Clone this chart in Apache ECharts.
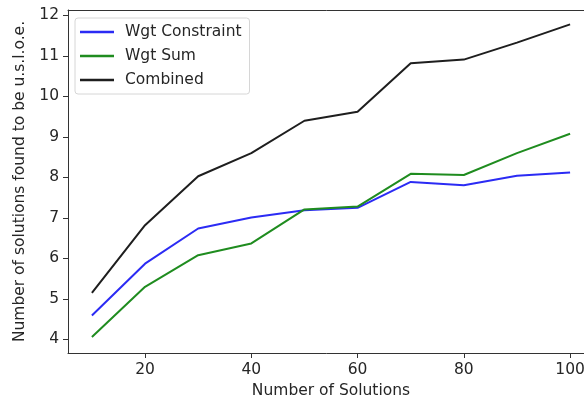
<!DOCTYPE html>
<html>
<head>
<meta charset="utf-8">
<script src="https://cdn.jsdelivr.net/npm/echarts@6/dist/echarts.min.js"></script>
<style>
  html, body { margin: 0; padding: 0; background: #fff; }
  #chart { width: 584px; height: 403px; }
</style>
</head>
<body>
<div id="chart"></div>
<script>
// Number of solutions per run
const solutions = [10, 20, 30, 40, 50, 60, 70, 80, 90, 100];

// Mean count of solutions found to be u.s.l.o.e. for each method
const wgtConstraint = [4.59, 5.87, 6.74, 7.01, 7.19, 7.25, 7.89, 7.81, 8.04, 8.12];
const wgtSum        = [4.06, 5.30, 6.08, 6.37, 7.21, 7.28, 8.09, 8.06, 8.60, 9.08];
const combined      = [5.15, 6.82, 8.03, 8.60, 9.40, 9.62, 10.82, 10.91, 11.33, 11.78];

// Tick values shown on the axes
const xTicks = [20, 40, 60, 80, 100];
const yTicks = [4, 5, 6, 7, 8, 9, 10, 11, 12];

const toPairs = (ys) => solutions.map((x, i) => [x, ys[i]]);

const font = 'DejaVu Sans';
const fontSize = 15.5;
const textColor = '#262626';
const axisColor = '#333333';
const xRange = { min: 5.5, max: 104.5 };

const chart = echarts.init(document.getElementById('chart'), null, { renderer: 'canvas' });

const lineSeries = (name, data, color) => ({
  name: name,
  type: 'line',
  data: toPairs(data),
  showSymbol: false,
  symbol: 'none',
  lineStyle: { color: color, width: 2 },
  itemStyle: { color: color },
  animation: false
});

chart.setOption({
  backgroundColor: '#ffffff',
  animation: false,
  grid: {
    left: 68, right: -10, top: 10, bottom: 50,
    containLabel: false,
    outerBoundsMode: 'none',
    show: false
  },
  legend: {
    orient: 'vertical',
    left: 75, top: 18,
    icon: 'rect',
    itemWidth: 34, itemHeight: 2.5,
    itemGap: 8,
    padding: [6, 8, 6, 5],
    backgroundColor: '#ffffff',
    borderColor: '#d6d6d6',
    borderWidth: 1,
    borderRadius: 3,
    textStyle: { fontFamily: font, fontSize: fontSize, color: textColor, padding: [0, 0, 0, 6] },
    data: ['Wgt Constraint', 'Wgt Sum', 'Combined']
  },
  xAxis: [{
    type: 'value',
    min: xRange.min, max: xRange.max,
    name: 'Number of Solutions',
    nameLocation: 'middle',
    nameGap: 29,
    nameTextStyle: { fontFamily: font, fontSize: fontSize, color: textColor },
    splitLine: { show: false },
    axisLine: { show: true, onZero: false, lineStyle: { color: axisColor, width: 1 } },
    axisTick: { show: true, length: 5, lineStyle: { color: axisColor }, customValues: xTicks },
    axisLabel: { fontFamily: font, fontSize: fontSize, color: textColor, margin: 9, customValues: xTicks }
  }, {
    // top frame line
    type: 'value',
    position: 'top',
    min: xRange.min, max: xRange.max,
    splitLine: { show: false },
    axisLine: { show: true, onZero: false, lineStyle: { color: axisColor, width: 1 } },
    axisTick: { show: false },
    axisLabel: { show: false }
  }],
  yAxis: {
    type: 'value',
    min: 3.665, max: 12.135,
    name: 'Number of solutions found to be u.s.l.o.e.',
    nameLocation: 'middle',
    nameGap: 40,
    nameRotate: 90,
    nameTextStyle: { fontFamily: font, fontSize: fontSize, color: textColor },
    splitLine: { show: false },
    axisLine: { show: true, onZero: false, lineStyle: { color: axisColor, width: 1 } },
    axisTick: { show: true, length: 5, lineStyle: { color: axisColor }, customValues: yTicks },
    axisLabel: { fontFamily: font, fontSize: fontSize, color: textColor, margin: 9, customValues: yTicks }
  },
  series: [
    lineSeries('Wgt Constraint', wgtConstraint, '#2b2bf4'),
    lineSeries('Wgt Sum', wgtSum, '#1f8c1f'),
    lineSeries('Combined', combined, '#1e1e1e')
  ]
});
</script>
</body>
</html>
